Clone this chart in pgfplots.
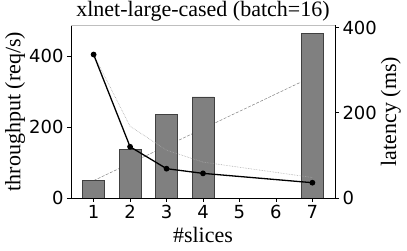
\documentclass[border=0pt]{standalone}
\usepackage{fontspec}
\setmainfont{Liberation Serif}
\newfontfamily\tickfont{DejaVu Sans}
\usepackage{pgfplots}
\pgfplotsset{compat=1.18}
\usetikzlibrary{calc}
\definecolor{barfill}{HTML}{808080}
\definecolor{baredge}{HTML}{404040}
\begin{document}
\begin{tikzpicture}
\pgfplotsset{
  common/.style={
    scale only axis, width=264pt, height=173pt,
    xmin=0.38, xmax=7.62,
    /pgf/number format/assume math mode=true,
    tick label style={font=\tickfont\fontsize{18}{18}\selectfont},
    label style={font=\fontsize{22}{24}\selectfont},
    tick align=outside, major tick length=4pt,
    tick style={black, line width=0.8pt},
    axis line style={line width=0.8pt, black},
  }
}
\begin{axis}[common, name=ax,
  ymin=0, ymax=487,
  axis y line*=left, axis x line*=bottom,
  xtick={1,2,3,4,5,6,7},
  ytick={0,200,400},
  xlabel={\#slices},
  ylabel={throughput (req/s)},
  title={xlnet-large-cased (batch=16)},
  title style={font=\fontsize{22}{24}\selectfont, yshift=-6pt},
  xlabel style={yshift=-1pt},
  ylabel style={yshift=-3pt},
]
\addplot[gray, line width=0.5pt, dash pattern=on 3pt off 1.5pt] coordinates {(1,48.8)(2,97.6)(3,146.4)(4,195.2)(7,341.6)};
\addplot[ybar, bar width=0.6, fill=barfill, draw=baredge, line width=0.8pt] coordinates {(1,48.8)(2,137)(3,235.7)(4,284.5)(7,463)};
\end{axis}
\begin{axis}[common,
  ymin=0, ymax=406,
  axis y line*=right, axis x line=none,
  ytick={0,200,400},
  ylabel={latency (ms)},
  ylabel style={yshift=3pt},
]
\addplot[gray!70, line width=0.6pt, densely dotted] coordinates {(1,336.7)(2,168.3)(3,112.2)(4,84.2)(7,48.1)};
\addplot[black, line width=1.3pt, mark=*, mark size=2.2pt] coordinates {(1,336.7)(2,120.3)(3,68.8)(4,57.8)(7,35.9)};
\end{axis}
\draw[lightgray, line width=0.8pt] (ax.north west) -- (ax.north east);
\pgfresetboundingbox
\path[use as bounding box] ($(ax.south west)+(-71pt,-53pt)$) rectangle ($(ax.north east)+(72pt,25pt)$);
\end{tikzpicture}
\end{document}
